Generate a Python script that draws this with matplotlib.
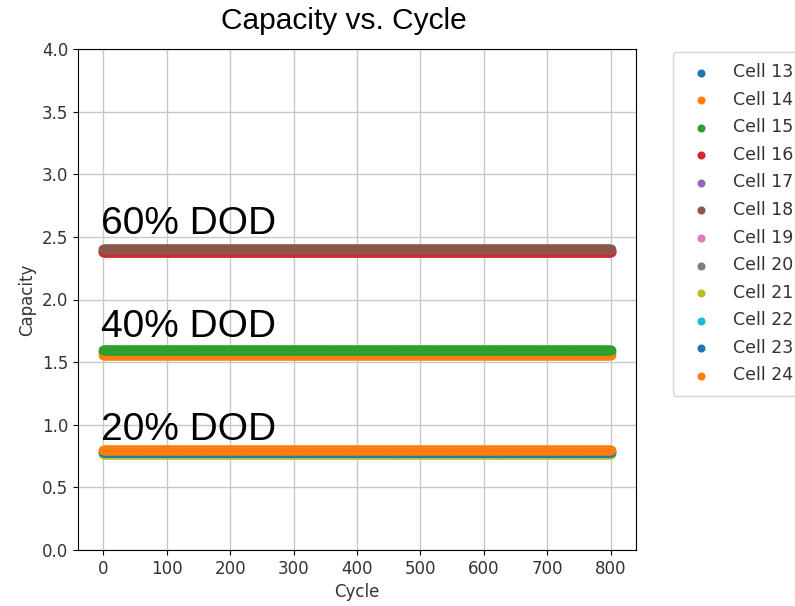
import numpy as np
import matplotlib
matplotlib.use("Agg")
import matplotlib.pyplot as plt

# ---- data ----
cells = ["Cell 13", "Cell 14", "Cell 15", "Cell 16", "Cell 17", "Cell 18",
         "Cell 19", "Cell 20", "Cell 21", "Cell 22", "Cell 23", "Cell 24"]
capacity = [1.58, 1.56, 1.60, 2.38, 2.385, 2.40,
            2.38, 2.39, 0.77, 0.78, 0.78, 0.80]
cycle_start = 0
cycle_end = 800
dod_labels = ["60% DOD", "40% DOD", "20% DOD"]
dod_label_y = [2.52, 1.70, 0.88]
xticks = [0, 100, 200, 300, 400, 500, 600, 700, 800]
yticks = [0.0, 0.5, 1.0, 1.5, 2.0, 2.5, 3.0, 3.5, 4.0]

colors = ["#1f77b4", "#ff7f0e", "#2ca02c", "#d62728", "#9467bd", "#8c564b",
          "#e377c2", "#7f7f7f", "#bcbd22", "#17becf", "#1f77b4", "#ff7f0e"]
# draw order (style): brown ends on top of its group, red just beneath
zorders = [2, 3, 4, 3.4, 3.3, 3.6, 3.1, 3.05, 2, 2.1, 2.2, 2.3]

fig = plt.figure(figsize=(7.95, 6.06), dpi=100)
ax = fig.add_axes([78/795, 1 - 550/606, (636-78)/795, (550-49)/606])

cycles = np.arange(cycle_start, cycle_end + 1)
for name, cap, c, z in zip(cells, capacity, colors, zorders):
    ax.scatter(cycles, np.full(cycles.shape, cap), color=c, label=name,
               s=36, zorder=z)

ax.set_ylim(0, 4)
ax.set_xlim(-40, 840)
ax.set_xticks(xticks)
ax.set_yticks(yticks)
ax.tick_params(labelsize=12, labelcolor="#333333")
ax.grid(True, color="#c8c8c8", linewidth=1)
ax.set_axisbelow(True)
ax.set_xlabel("Cycle", fontsize=12, color="#333333")
ax.set_ylabel("Capacity", fontsize=12, color="#333333")

for lab, yv in zip(dod_labels, dod_label_y):
    ax.text(-3, yv, lab, fontsize=28, family="Liberation Sans",
            ha="left", va="baseline", zorder=10)

fig.text(344/795, 1 - 21/606, "Capacity vs. Cycle", fontsize=21.5,
         family="Liberation Sans", ha="center", va="center")

leg = ax.legend(loc="upper left", bbox_to_anchor=(1.066, 0.994),
                fontsize=12.5, scatterpoints=1, markerscale=0.8,
                borderaxespad=0, labelspacing=0.55, handletextpad=0.8,
                borderpad=0.65, frameon=True)
for t in leg.get_texts():
    t.set_color("#333333")

fig.savefig("out.png", dpi=100)
